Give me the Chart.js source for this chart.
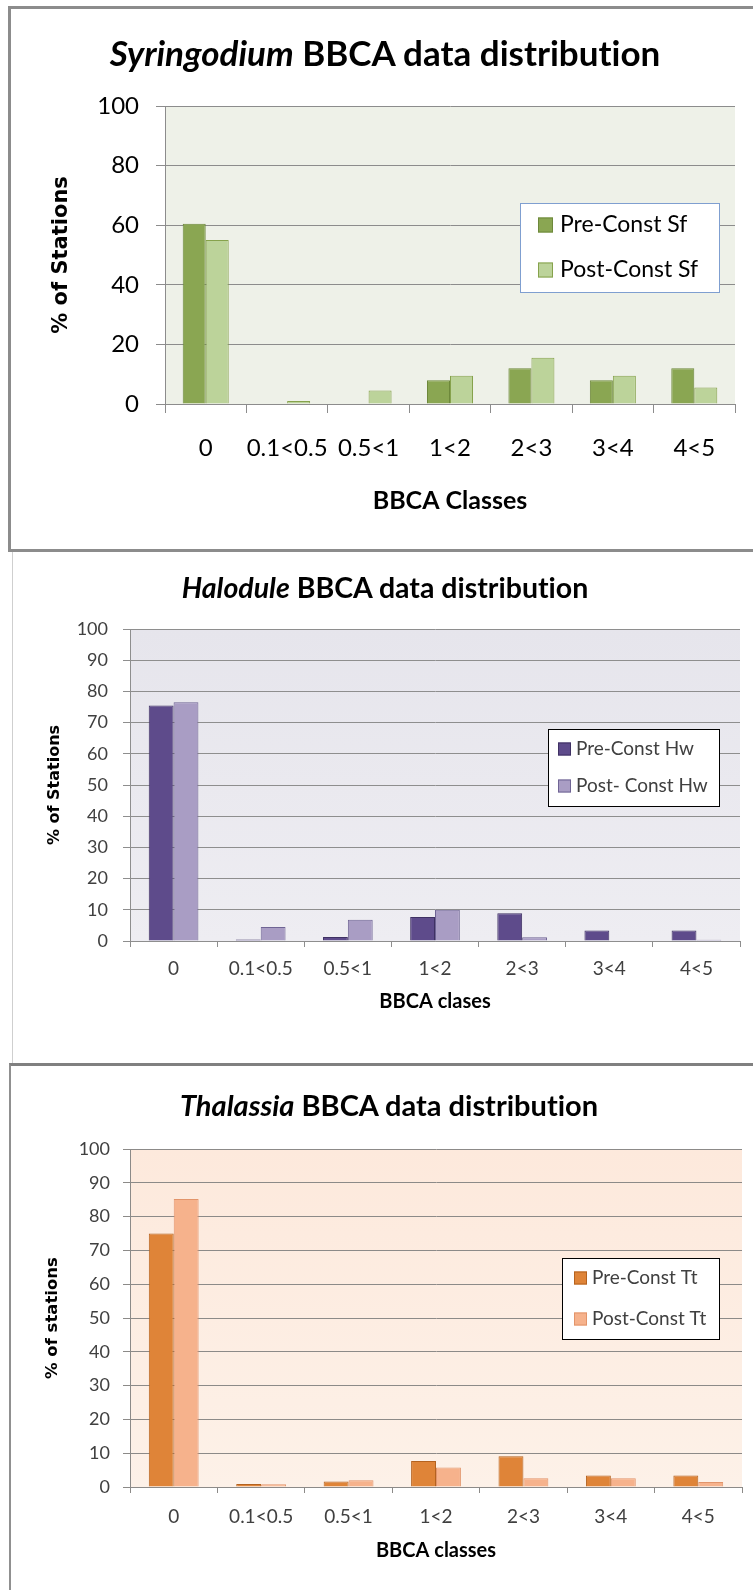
<!DOCTYPE html>
<html>
<head>
<meta charset="utf-8">
<title>BBCA data distribution</title>
<script src="https://cdn.jsdelivr.net/npm/chart.js@4.4.1/dist/chart.umd.min.js"></script>
<style>
  body { margin: 0; background: #fff; overflow: hidden; }
  #page { position: relative; width: 753px; height: 1590px; overflow: hidden; background: #fff; }
  canvas { position: absolute; left: 0; }
  .frame { position: absolute; box-sizing: border-box; }
  .title { position: absolute; font-family: Lato, sans-serif; font-weight: bold; color: #000;
           white-space: nowrap; transform: translate(-50%, -50%); font-variant-ligatures: none; }
</style>
</head>
<body>
<div id="page">
  <!-- frames around the three pasted charts -->
  <div class="frame" style="left:8px;top:6px;width:760px;height:546px;border:3px solid #8c8c8c;"></div>
  <div class="frame" style="left:12px;top:552px;width:1px;height:511px;background:#cfcfcf;"></div>
  <div class="frame" style="left:9px;top:1063px;width:760px;height:540px;border-top:3px solid #808080;border-left:2px solid #909090;"></div>

  <canvas id="chart1" width="753" height="548" style="top:0px"></canvas>
  <canvas id="chart2" width="753" height="511" style="top:552px"></canvas>
  <canvas id="chart3" width="753" height="524" style="top:1066px"></canvas>

  <div class="title" style="left:385px;top:52px;font-size:35px;"><i>Syringodium</i> BBCA data distribution</div>
  <div class="title" style="left:385px;top:587px;font-size:28.5px;"><i>Halodule</i> BBCA data distribution</div>
  <div class="title" style="left:389px;top:1104px;font-size:29px;"><i>Thalassia</i> BBCA data distribution</div>
</div>

<script>
// BBCA classes on the x axis (same for all three charts)
const classes = ['0', '0.1<0.5', '0.5<1', '1<2', '2<3', '3<4', '4<5'];

// % of stations
const preSf = [60.5, 0, 0, 8, 12, 8, 12];
const postSf = [55, 1, 4.5, 9.5, 15.5, 9.5, 5.5];

const preHw = [75.5, 0.5, 1.3, 7.7, 8.9, 3.4, 3.4];
const postHw = [76.5, 4.5, 6.8, 10, 1.2, 0, 0.4];

const preTt = [75, 0.9, 1.6, 7.7, 9.1, 3.4, 3.4];
const postTt = [85.2, 0.8, 2, 5.8, 2.6, 2.6, 1.5];

// Fills the plot area behind the bars
const plotBackground = {
    id: 'plotBackground',
    beforeDraw(chart, args, opts) {
        const { ctx, chartArea: a } = chart;
        const g = ctx.createLinearGradient(0, a.top, 0, a.bottom);
        g.addColorStop(0, opts.top);
        g.addColorStop(1, opts.bottom);
        ctx.save();
        ctx.fillStyle = g;
        ctx.fillRect(a.left, a.top, a.right - a.left, a.bottom - a.top);
        ctx.restore();
    }
};

// Boxed legend sitting over the plot, like the Excel ones
const boxLegend = {
    id: 'boxLegend',
    afterDraw(chart, args, opts) {
        const ctx = chart.ctx;
        ctx.save();
        ctx.fillStyle = '#fff';
        ctx.fillRect(opts.x, opts.y, opts.w, opts.h);
        ctx.strokeStyle = opts.border;
        ctx.lineWidth = 1;
        ctx.strokeRect(opts.x + 0.5, opts.y + 0.5, opts.w - 1, opts.h - 1);
        ctx.font = opts.font;
        ctx.textBaseline = 'middle';
        chart.data.datasets.forEach((ds, i) => {
            const cy = opts.rows[i];
            ctx.fillStyle = ds.backgroundColor;
            ctx.fillRect(opts.boxX, cy - opts.box / 2, opts.box, opts.box);
            ctx.strokeStyle = ds.borderColor;
            ctx.strokeRect(opts.boxX + 0.5, cy - opts.box / 2 + 0.5, opts.box - 1, opts.box - 1);
            ctx.fillStyle = opts.color;
            ctx.fillText(ds.label, opts.textX, cy);
        });
        ctx.restore();
    }
};

function makeChart(id, labels, pre, post, look) {
    const ctx = document.getElementById(id).getContext('2d');
    return new Chart(ctx, {
        type: 'bar',
        data: {
            labels: labels,
            datasets: [{
                label: look.names[0],
                data: pre,
                backgroundColor: look.colors[0],
                borderColor: look.borders[0],
                borderWidth: 1,
                categoryPercentage: look.catPct,
                barPercentage: 1.0
            }, {
                label: look.names[1],
                data: post,
                backgroundColor: look.colors[1],
                borderColor: look.borders[1],
                borderWidth: 1,
                categoryPercentage: look.catPct,
                barPercentage: 1.0
            }]
        },
        options: {
            responsive: false,
            animation: false,
            layout: { padding: look.padding },
            plugins: {
                legend: { display: false },
                tooltip: { enabled: false },
                plotBackground: look.bg,
                boxLegend: look.legend
            },
            scales: {
                x: {
                    grid: { offset: true, drawOnChartArea: false, drawTicks: true, tickLength: look.xTick, color: look.gridColor },
                    border: { color: look.gridColor },
                    ticks: { font: { family: 'Lato', size: look.xFont }, color: look.textColor, padding: look.xPad, maxRotation: 0, autoSkip: false },
                    title: {
                        display: true,
                        text: look.xTitle,
                        font: { family: 'Lato', size: look.xTitleSize, weight: 'bold' },
                        color: '#000',
                        padding: { top: 0, bottom: look.xTitlePad }
                    },
                    afterFit: (scale) => { scale.height = look.xHeight; }
                },
                y: {
                    min: 0,
                    max: 100,
                    grid: { color: look.gridColor, tickLength: look.yTick },
                    border: { color: look.gridColor },
                    ticks: { stepSize: look.step, font: { family: 'Lato', size: look.yFont }, color: look.textColor, padding: look.yPad },
                    title: {
                        display: true,
                        text: look.yTitle,
                        font: { family: 'DejaVu Sans', size: look.yTitleSize, weight: 'bold' },
                        color: '#000',
                        padding: { top: look.yTitlePad, bottom: 0 }
                    },
                    afterFit: (scale) => { scale.width = look.yWidth; }
                }
            }
        },
        plugins: [plotBackground, boxLegend]
    });
}

makeChart('chart1', classes, preSf, postSf, {
    names: ['Pre-Const Sf', 'Post-Const Sf'],
    colors: ['#8aa652', '#bcd39a'],
    borders: ['#6d883b', '#86a24c'],
    catPct: 0.565,
    padding: { top: 106, right: 18, left: 0, bottom: 24 },
    bg: { top: '#eef1e8', bottom: '#eef1e8' },
    gridColor: '#8c8c8c',
    textColor: '#000',
    xTick: 9, xFont: 24, xPad: 21, xHeight: 120,
    xTitle: 'BBCA Classes', xTitleSize: 25, xTitlePad: 8,
    yTick: 9, yFont: 24, yPad: 17, yWidth: 165, step: 20,
    yTitle: '% of Stations', yTitleSize: 21, yTitlePad: 49,
    legend: { x: 520, y: 203, w: 200, h: 90, border: '#7f9fd0', boxX: 538, box: 15, textX: 560,
              rows: [225, 270], font: '23px Lato', color: '#000' }
});

makeChart('chart2', classes, preHw, postHw, {
    names: ['Pre-Const Hw', 'Post- Const Hw'],
    colors: ['#5e4b8b', '#a99dc4'],
    borders: ['#3f3163', '#6f6494'],
    catPct: 0.57,
    padding: { top: 77, right: 13, left: 0, bottom: 42 },
    bg: { top: '#e6e5ec', bottom: '#eeedf2' },
    gridColor: '#8e8e8e',
    textColor: '#404040',
    xTick: 6, xFont: 19, xPad: 10, xHeight: 80,
    xTitle: 'BBCA clases', xTitleSize: 20, xTitlePad: 7,
    yTick: 7, yFont: 18, yPad: 15, yWidth: 130, step: 10,
    yTitle: '% of Stations', yTitleSize: 16, yTitlePad: 45,
    legend: { x: 548, y: 177, w: 172, h: 78, border: '#000', boxX: 558, box: 13, textX: 576,
              rows: [197, 234], font: '19px Lato', color: '#404040' }
});

makeChart('chart3', classes, preTt, postTt, {
    names: ['Pre-Const Tt', 'Post-Const Tt'],
    colors: ['#df8438', '#f6b28c'],
    borders: ['#b4621f', '#e2946a'],
    catPct: 0.57,
    padding: { top: 83, right: 11, left: 0, bottom: 23 },
    bg: { top: '#fde9dc', bottom: '#fdf1e8' },
    gridColor: '#8c8a88',
    textColor: '#404040',
    xTick: 6, xFont: 19, xPad: 12, xHeight: 80,
    xTitle: 'BBCA classes', xTitleSize: 20, xTitlePad: 4,
    yTick: 7, yFont: 18, yPad: 13, yWidth: 130, step: 10,
    yTitle: '% of stations', yTitleSize: 16.5, yTitlePad: 43,
    legend: { x: 562, y: 192, w: 158, h: 82, border: '#000', boxX: 574, box: 13, textX: 592,
              rows: [212, 253], font: '19px Lato', color: '#404040' }
});
</script>
</body>
</html>
